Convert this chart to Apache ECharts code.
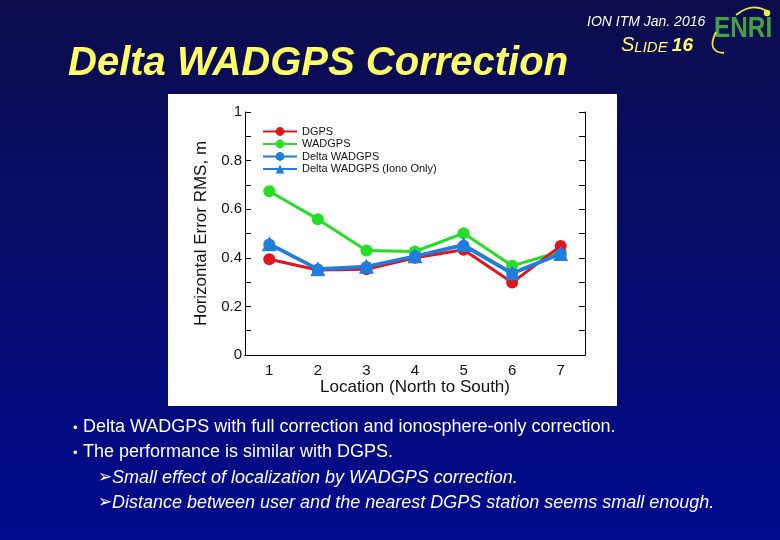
<!DOCTYPE html>
<html>
<head>
<meta charset="utf-8">
<script src="https://cdn.jsdelivr.net/npm/echarts@6/dist/echarts.min.js"></script>
<style>
html,body{margin:0;padding:0;background:#00087a;}
#c{width:780px;height:540px;}
</style>
</head>
<body>
<div id="c"></div>
<script>
const locations = ['1','2','3','4','5','6','7'];
const dgps      = [0.394, 0.350, 0.353, 0.400, 0.433, 0.298, 0.449];
const wadgps    = [0.674, 0.559, 0.430, 0.426, 0.501, 0.367, 0.426];
const deltaWad  = [0.455, 0.352, 0.362, 0.406, 0.450, 0.334, 0.415];
const deltaIono = [0.458, 0.355, 0.365, 0.408, 0.455, 0.338, 0.418];
const yTicks    = [0, 0.2, 0.4, 0.6, 0.8, 1];

const chart = echarts.init(document.getElementById('c'));
const FONT = '"Liberation Sans", Arial, sans-serif';
const RED = '#e3141c', GREEN = '#27de27', BLUE = '#1f7ddf';

function mkSeries(name, data, color, symbol, z) {
  return {
    name, type: 'line', data, xAxisIndex: 0, yAxisIndex: 0,
    symbol, symbolSize: symbol === 'triangle' ? 15 : 12,
    lineStyle: { color, width: 3 },
    itemStyle: { color },
    z, animation: false
  };
}

chart.setOption({
  animation: false,
  backgroundColor: new echarts.graphic.LinearGradient(0, 0, 0, 1, [
    { offset: 0, color: '#0c0c4c' },
    { offset: 1, color: '#000b8e' }
  ]),
  textStyle: { fontFamily: FONT },
  graphic: [
    { type: 'rect', shape: { x: 168, y: 94, width: 449, height: 312 }, style: { fill: '#ffffff' }, z: -10 },
    { type: 'text', x: 68, y: 44, style: { text: 'Delta WADGPS Correction', fill: '#ffff66', font: 'italic bold 40px "Liberation Sans", Arial' } },
    { type: 'text', x: 587, y: 15, style: { text: 'ION ITM Jan. 2016', fill: '#ffffff', font: 'italic 14px "Liberation Sans", Arial' } },
    { type: 'text', x: 621, y: 35, style: {
        text: '{s|S}{l|LIDE }{n|16}',
        rich: {
          s: { fill: '#ffff66', font: 'italic 20px "Liberation Sans", Arial', verticalAlign: 'bottom' },
          l: { fill: '#ffff66', font: 'italic 15px "Liberation Sans", Arial', verticalAlign: 'bottom' },
          n: { fill: '#ffff66', font: 'italic bold 19px "Liberation Sans", Arial', verticalAlign: 'bottom' }
        } } },
    { type: 'text', x: 714, y: 14, scaleX: 0.84, style: { text: 'ENRI', fill: '#42a242', font: 'bold 29px "Liberation Sans", Arial' } },
    { type: 'bezierCurve', shape: { x1: 716, y1: 32, cpx1: 706, cpy1: 52, x2: 724, y2: 53 }, style: { stroke: '#e6e640', lineWidth: 1.8, fill: null } },
    { type: 'bezierCurve', shape: { x1: 736, y1: 15, cpx1: 752, cpy1: 2, x2: 767, y2: 11 }, style: { stroke: '#e6e640', lineWidth: 1.8, fill: null } },
    { type: 'circle', shape: { cx: 767, cy: 13, r: 3.2 }, style: { fill: '#f0f040' } },
    { type: 'text', x: 73, y: 422, style: { text: '•', fill: '#ffffff', font: '13px "Liberation Sans", Arial' } },
    { type: 'text', x: 83, y: 418, style: { text: 'Delta WADGPS with full correction and ionosphere-only correction.', fill: '#ffffff', font: '18px "Liberation Sans", Arial' } },
    { type: 'text', x: 73, y: 447, style: { text: '•', fill: '#ffffff', font: '13px "Liberation Sans", Arial' } },
    { type: 'text', x: 83, y: 443, style: { text: 'The performance is similar with DGPS.', fill: '#ffffff', font: '18px "Liberation Sans", Arial' } },
    { type: 'text', x: 98, y: 469, style: { text: '➢', fill: '#ffffff', font: '17px "DejaVu Sans"' } },
    { type: 'text', x: 112, y: 469, style: { text: 'Small effect of localization by WADGPS correction.', fill: '#ffffff', font: 'italic 18px "Liberation Sans", Arial' } },
    { type: 'text', x: 98, y: 494, style: { text: '➢', fill: '#ffffff', font: '17px "DejaVu Sans"' } },
    { type: 'text', x: 112, y: 494, style: { text: 'Distance between user and the nearest DGPS station seems small enough.', fill: '#ffffff', font: 'italic 18px "Liberation Sans", Arial' } }
  ],
  grid: { left: 245, right: 195, top: 112, bottom: 185, show: false },
  legend: {
    orient: 'vertical', left: 257, top: 121,
    itemWidth: 34, itemHeight: 11, itemGap: 1.5,
    textStyle: { fontSize: 11, color: '#111', fontFamily: FONT },
    data: ['DGPS', 'WADGPS', 'Delta WADGPS', 'Delta WADGPS (Iono Only)']
  },
  xAxis: [
    {
      type: 'category', data: locations, boundaryGap: true, position: 'bottom',
      name: 'Location (North to South)', nameLocation: 'middle', nameGap: 22,
      nameTextStyle: { fontSize: 17, color: '#111', fontFamily: FONT },
      axisLine: { lineStyle: { color: '#000', width: 1 } },
      axisTick: { inside: true, alignWithLabel: true, length: 6, lineStyle: { color: '#000' } },
      axisLabel: { fontSize: 15, color: '#111', margin: 8 },
      splitLine: { show: false }
    },
    {
      type: 'category', data: locations, boundaryGap: true, position: 'top',
      axisLine: { lineStyle: { color: '#000', width: 1 } },
      axisTick: { inside: true, alignWithLabel: true, length: 6, lineStyle: { color: '#000' } },
      axisLabel: { show: false }, splitLine: { show: false }
    }
  ],
  yAxis: [
    {
      type: 'value', min: 0, max: 1, interval: 0.2, position: 'left',
      name: 'Horizontal Error RMS, m', nameLocation: 'middle', nameGap: 35,
      nameTextStyle: { fontSize: 17, color: '#111', fontFamily: FONT },
      axisLine: { show: true, lineStyle: { color: '#000', width: 1 } },
      axisTick: { show: true, inside: true, length: 6, lineStyle: { color: '#000' } },
      minorTick: { show: true, splitNumber: 2, length: 6, lineStyle: { color: '#000' } },
      axisLabel: { fontSize: 15, color: '#111', margin: 3, customValues: yTicks },
      splitLine: { show: false }
    },
    {
      type: 'value', min: 0, max: 1, interval: 0.2, position: 'right',
      axisLine: { show: true, lineStyle: { color: '#000', width: 1 } },
      axisTick: { show: true, inside: true, length: 6, lineStyle: { color: '#000' } },
      minorTick: { show: true, splitNumber: 2, length: 6, lineStyle: { color: '#000' } },
      axisLabel: { show: false }, splitLine: { show: false }
    }
  ],
  series: [
    mkSeries('WADGPS', wadgps, GREEN, 'circle', 2),
    mkSeries('DGPS', dgps, RED, 'circle', 3),
    mkSeries('Delta WADGPS', deltaWad, BLUE, 'circle', 4),
    mkSeries('Delta WADGPS (Iono Only)', deltaIono, BLUE, 'triangle', 5)
  ]
});
</script>
</body>
</html>
